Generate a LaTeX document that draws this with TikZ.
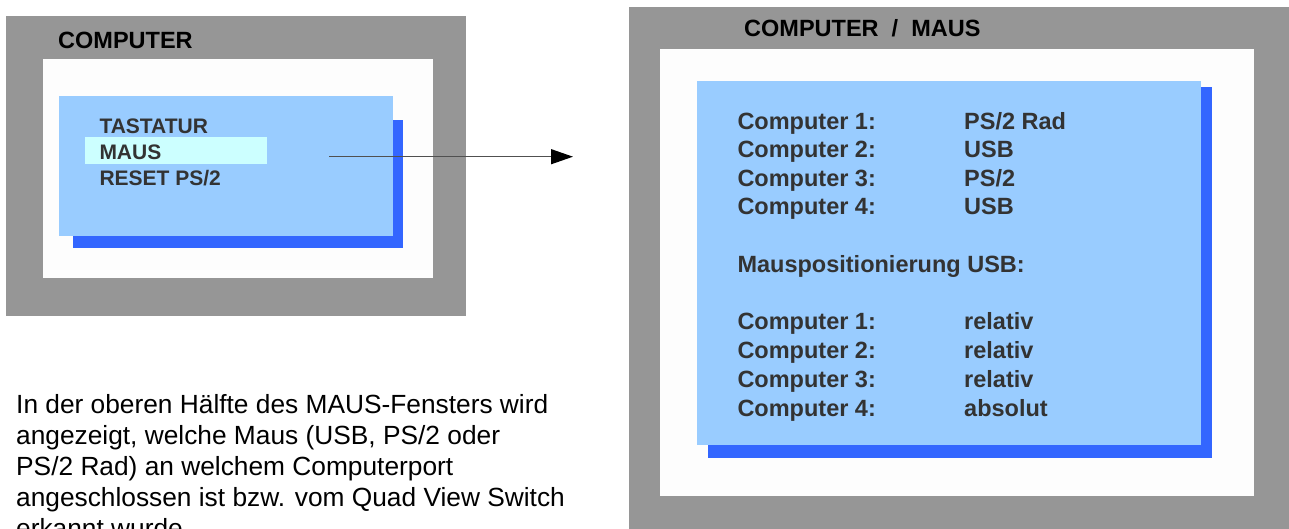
\documentclass[tikz,border=0pt]{standalone}
\usepackage{fontspec}
\setmainfont{Liberation Sans}
\usetikzlibrary{arrows.meta}
\definecolor{framegray}{HTML}{969696}
\definecolor{innerwhite}{HTML}{FDFDFD}
\definecolor{panelblue}{HTML}{99CCFF}
\definecolor{shadowblue}{HTML}{3366FF}
\definecolor{hilite}{HTML}{CCFFFF}
\definecolor{menutext}{HTML}{333333}
\definecolor{linkgray}{HTML}{505050}
\begin{document}
\begin{tikzpicture}[x=1pt,y=-1pt,
  menu/.style={anchor=base west, inner sep=0, text=menutext, font=\fontsize{21}{25}\selectfont\bfseries},
  entry/.style={anchor=base west, inner sep=0, text=menutext, font=\fontsize{23.5}{28}\selectfont\bfseries},
  title/.style={anchor=base west, inner sep=0, text=black, font=\fontsize{23.5}{28}\selectfont\bfseries},
  body/.style={anchor=base west, inner sep=0, text=black, font=\fontsize{26.3}{31}\selectfont},
  link/.style={draw=linkgray, line width=1.2pt, -{Triangle[length=22pt,width=15pt,color=black]}}
]
\clip (0,0) rectangle (1289,528);
\fill[white] (0,0) rectangle (1289,528);

% left window
\fill[framegray] (6,16) rectangle (466,316);
\fill[innerwhite] (43,59) rectangle (433,278);
\fill[shadowblue] (73,120) rectangle (403,248);
\fill[panelblue] (59,96) rectangle (393,236);
\fill[hilite] (85,137) rectangle (267,164);
\node[title] (ltitle) at (58,48) {COMPUTER};
\node[menu] (tast) at (99.3,133.3) {TASTATUR};
\node[menu] (maus) at (99.3,159.3) {MAUS};
\node[menu] (reset) at (99.3,185) {RESET PS/2};

% right window
\fill[framegray] (629,7) rectangle (1300,540);
\fill[innerwhite] (660,49) rectangle (1254,496);
\fill[shadowblue] (708,87) rectangle (1212,458);
\fill[panelblue] (697,81) rectangle (1201,445);
\node[title] (rtitle) at (744,36.7) {COMPUTER~~/~~MAUS};

\node[entry] (c1) at (737.3,129.3) {Computer 1:};
\node[entry] (c2) at (737.3,157.7) {Computer 2:};
\node[entry] (c3) at (737.3,186) {Computer 3:};
\node[entry] (c4) at (737.3,214.3) {Computer 4:};
\node[entry] (v1) at (964,129.3) {PS/2 Rad};
\node[entry] (v2) at (964,157.7) {USB};
\node[entry] (v3) at (964,186) {PS/2};
\node[entry] (v4) at (964,214.3) {USB};

\node[entry] (mpos) at (737.3,272.7) {Mauspositionierung USB:};

\node[entry] (d1) at (737.3,329.3) {Computer 1:};
\node[entry] (d2) at (737.3,358.3) {Computer 2:};
\node[entry] (d3) at (737.3,387.3) {Computer 3:};
\node[entry] (d4) at (737.3,416) {Computer 4:};
\node[entry] (w1) at (964,329.3) {relativ};
\node[entry] (w2) at (964,358.3) {relativ};
\node[entry] (w3) at (964,387.3) {relativ};
\node[entry] (w4) at (964,416) {absolut};

% arrow
\coordinate (arrowstart) at (329,156.7);
\coordinate (arrowend) at (573,156.7);
\draw[link] (arrowstart) -- (arrowend);

% explanation
\node[body] (p1) at (16,413.5) {In der oberen Hälfte des MAUS-Fensters wird};
\node[body] (p2) at (16,444.6) {angezeigt, welche Maus (USB, PS/2 oder};
\node[body] (p3) at (16,475.7) {PS/2 Rad) an welchem Computerport};
\node[body] (p4) at (16,506.8) {angeschlossen ist bzw. vom Quad View Switch};
\node[body] (p5) at (16,537.9) {erkannt wurde.};
\end{tikzpicture}
\end{document}
